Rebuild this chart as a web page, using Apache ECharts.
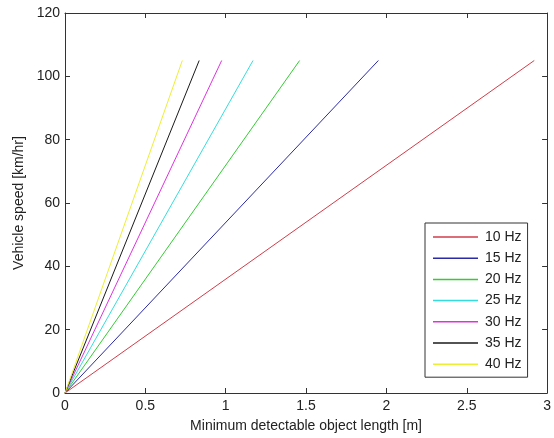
<!DOCTYPE html>
<html>
<head>
<meta charset="utf-8">
<script src="https://cdn.jsdelivr.net/npm/echarts@6/dist/echarts.min.js"></script>
<style>
html,body{margin:0;padding:0;background:#fff;}
#chart{width:554px;height:438px;}
</style>
</head>
<body>
<div id="chart"></div>
<script>
// Data
const seriesNames = ['10 Hz', '15 Hz', '20 Hz', '25 Hz', '30 Hz', '35 Hz', '40 Hz'];
const speeds = [0, 105];                 // km/hr
const len10 = [0, 2.92];                 // m
const len15 = [0, 1.95];
const len20 = [0, 1.46];
const len25 = [0, 1.17];
const len30 = [0, 0.975];
const len35 = [0, 0.835];
const len40 = [0, 0.73];
const xTicks = [0, 0.5, 1, 1.5, 2, 2.5, 3];
const yTicks = [0, 20, 40, 60, 80, 100, 120];

const lengths = [len10, len15, len20, len25, len30, len35, len40];
const colors = ['#d23c48', '#2a2aa8', '#33cc33', '#33dddd', '#dd33dd', '#1a1a1a', '#eeee33'];

const font = 'Liberation Sans, Arial, sans-serif';
const axisColor = '#333';

const chart = echarts.init(document.getElementById('chart'), null, {renderer: 'canvas'});

const series = seriesNames.map((name, i) => ({
  name: name,
  type: 'line',
  symbol: 'none',
  xAxisIndex: 0,
  yAxisIndex: 0,
  data: lengths[i].map((v, j) => [v, speeds[j]]),
  lineStyle: {color: colors[i], width: 1},
  itemStyle: {color: colors[i]},
  animation: false
}));

const baseTick = {show: true, inside: true, length: 5, lineStyle: {color: axisColor, width: 1}};
const baseLine = {show: true, onZero: false, lineStyle: {color: axisColor, width: 1}};

chart.setOption({
  backgroundColor: '#fff',
  animation: false,
  grid: {left: 65, right: 1, top: 13, bottom: 43, containLabel: false},
  legend: {
    orient: 'vertical',
    left: 425,
    top: 223,
    padding: [7, 6, 6, 8],
    icon: 'rect',
    itemWidth: 45,
    itemHeight: 1.5,
    itemGap: 7.2,
    borderColor: '#333',
    borderWidth: 1,
    backgroundColor: '#fff',
    textStyle: {fontFamily: font, fontSize: 14, lineHeight: 14, color: '#222', padding: [0, 0, 0, 2]},
    data: seriesNames
  },
  xAxis: [{
    type: 'value',
    min: 0, max: 3, interval: 0.5,
    position: 'bottom',
    name: 'Minimum detectable object length [m]',
    nameLocation: 'middle',
    nameGap: 26,
    nameTextStyle: {fontFamily: font, fontSize: 14, color: '#222'},
    axisLine: baseLine,
    axisTick: baseTick,
    splitLine: {show: false},
    axisLabel: {fontFamily: font, fontSize: 14, color: '#222', margin: 6,
      formatter: v => xTicks.includes(v) ? String(v) : ''}
  }, {
    type: 'value',
    min: 0, max: 3, interval: 0.5,
    position: 'top',
    axisLine: baseLine,
    axisTick: baseTick,
    splitLine: {show: false},
    axisLabel: {show: false}
  }],
  yAxis: [{
    type: 'value',
    min: 0, max: 120, interval: 20,
    position: 'left',
    name: 'Vehicle speed [km/hr]',
    nameLocation: 'middle',
    nameGap: 36,
    nameTextStyle: {fontFamily: font, fontSize: 14, color: '#222'},
    axisLine: baseLine,
    axisTick: baseTick,
    splitLine: {show: false},
    axisLabel: {fontFamily: font, fontSize: 14, color: '#222', margin: 5,
      formatter: v => yTicks.includes(v) ? String(v) : ''}
  }, {
    type: 'value',
    min: 0, max: 120, interval: 20,
    position: 'right',
    axisLine: baseLine,
    axisTick: baseTick,
    splitLine: {show: false},
    axisLabel: {show: false}
  }],
  series: series
});
</script>
</body>
</html>
